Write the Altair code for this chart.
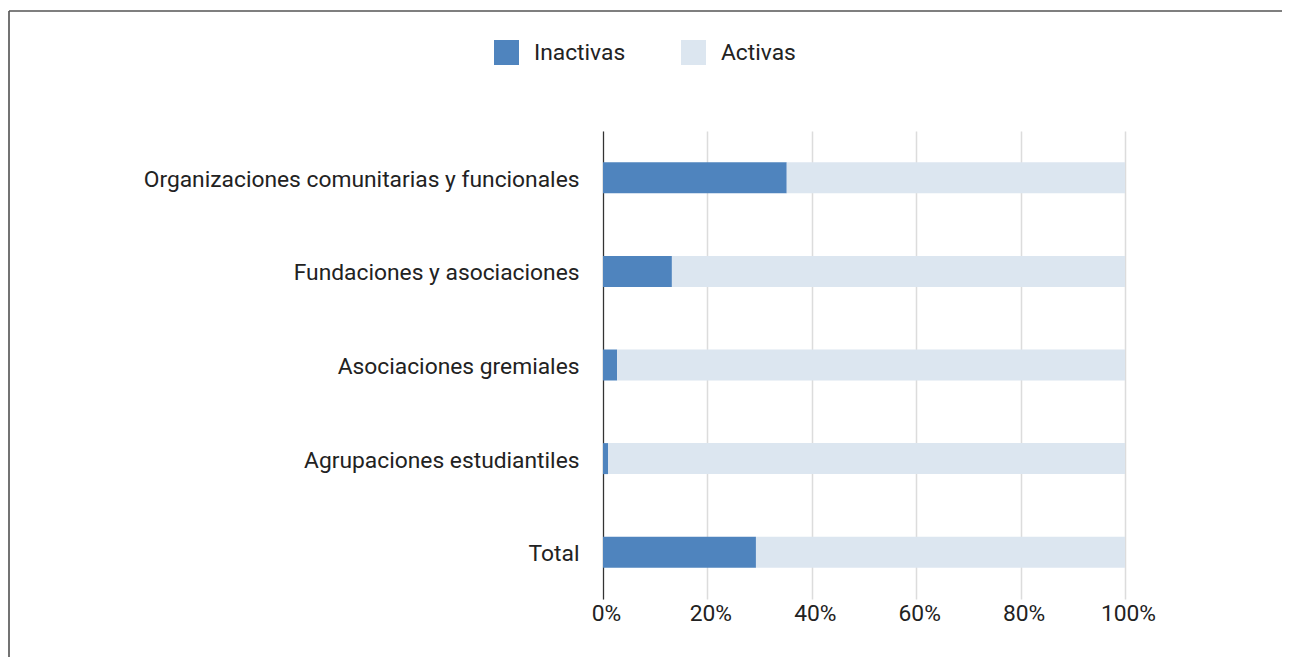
import altair as alt
import pandas as pd

categories = [
    "Organizaciones comunitarias y funcionales",
    "Fundaciones y asociaciones",
    "Asociaciones gremiales",
    "Agrupaciones estudiantiles",
    "Total",
]
inactivas = [0.352, 0.132, 0.027, 0.010, 0.293]
activas = [0.648, 0.868, 0.973, 0.990, 0.707]
series = ["Inactivas", "Activas"]
colors = ["#4F84BE", "#DCE6F0"]
ticks = [0, 0.2, 0.4, 0.6, 0.8, 1.0]

rows = []
for c, a, b in zip(categories, inactivas, activas):
    rows.append({"cat": c, "serie": series[0], "val": a, "ord": 0})
    rows.append({"cat": c, "serie": series[1], "val": b, "ord": 1})
df = pd.DataFrame(rows)

FONT = "Roboto"
FS = 22.8

bars = alt.Chart(df).mark_bar(size=31).encode(
    y=alt.Y("cat:N", sort=categories, title=None,
            scale=alt.Scale(paddingInner=0, paddingOuter=0),
            axis=alt.Axis(domain=True, domainColor="#333333", domainWidth=1.2,
                          ticks=False, labelPadding=24, labelFontSize=FS,
                          labelFont=FONT, labelColor="#222222", labelLimit=700,
                          labelOffset=2, grid=False)),
    x=alt.X("val:Q", stack="zero", title=None,
            scale=alt.Scale(domain=[0, 1], nice=False),
            axis=alt.Axis(values=ticks, format=".0%", domain=False, ticks=False,
                          grid=True, gridColor="#DCDCDC", gridWidth=1.5,
                          labelFlush=False, labelOffset=3,
                          labelPadding=3, labelFontSize=FS, labelFont=FONT,
                          labelColor="#222222")),
    color=alt.Color("serie:N", sort=series,
                    scale=alt.Scale(domain=series, range=colors),
                    legend=alt.Legend(title=None, orient="none", direction="horizontal",
                                      legendX=-109, legendY=-91, symbolType="square",
                                      symbolSize=625, symbolStrokeWidth=0,
                                      labelFontSize=FS, labelFont=FONT,
                                      labelColor="#222222", labelOffset=15,
                                      columnPadding=55, padding=0)),
    order=alt.Order("ord:Q"),
)

frame_df = pd.DataFrame({"a": [0]})
left_line = alt.Chart(frame_df).mark_rule(color="#444444", strokeWidth=1.5).encode(
    x=alt.value(-594), y=alt.value(-120), y2=alt.value(600))
top_line = alt.Chart(frame_df).mark_rule(color="#555555", strokeWidth=1.5).encode(
    x=alt.value(-594), x2=alt.value(700), y=alt.value(-120))

chart = alt.layer(bars, left_line, top_line).properties(
    width=522, height=468,
    autosize=alt.AutoSizeParams(type="none"),
    padding={"left": 595, "top": 123, "right": 157, "bottom": 58},
).configure_view(stroke=None)

chart.save("out.html", embed_options={"renderer": "svg", "actions": False})
